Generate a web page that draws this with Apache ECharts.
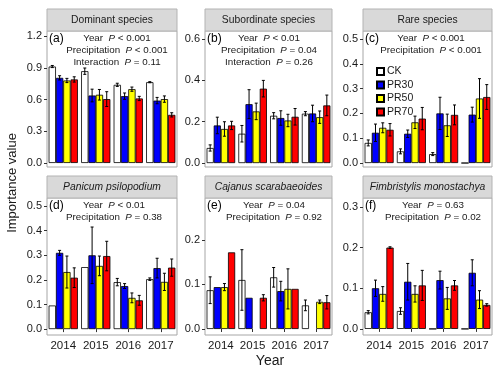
<!DOCTYPE html>
<html>
<head>
<meta charset="utf-8">
<script src="https://cdn.jsdelivr.net/npm/echarts@6/dist/echarts.min.js"></script>
<style>
  html, body { margin: 0; padding: 0; background: #fff; }
  #chart { width: 500px; height: 376px; }
</style>
</head>
<body>
<div id="chart"></div>
<script>
const years = ['2014', '2015', '2016', '2017']
const treatments = ['CK', 'PR30', 'PR50', 'PR70']
const colors = ['#ffffff', '#0000ff', '#ffff00', '#ff0000']

// rows: CK, PR30, PR50, PR70 ; columns: years
const dominantMean = [[0.912, 0.868, 0.739, 0.764], [0.805, 0.638, 0.632, 0.59], [0.78, 0.645, 0.698, 0.604], [0.79, 0.604, 0.61, 0.455]]
const dominantErr = [[0.01, 0.03, 0.015, 0.005], [0.02, 0.06, 0.03, 0.03], [0.02, 0.05, 0.02, 0.03], [0.025, 0.07, 0.02, 0.02]]
const subordinateMean = [[0.073, 0.142, 0.229, 0.239], [0.182, 0.285, 0.218, 0.24], [0.165, 0.25, 0.206, 0.222], [0.182, 0.36, 0.224, 0.279]]
const subordinateErr = [[0.015, 0.04, 0.015, 0.01], [0.04, 0.07, 0.035, 0.04], [0.035, 0.04, 0.03, 0.03], [0.02, 0.04, 0.04, 0.05]]
const rareMean = [[0.081, 0.047, 0.036, 0], [0.122, 0.118, 0.2, 0.195], [0.142, 0.164, 0.152, 0.26], [0.134, 0.179, 0.194, 0.266]]
const rareErr = [[0.012, 0.01, 0.006, 0], [0.035, 0.015, 0.065, 0.03], [0.02, 0.025, 0.045, 0.08], [0.025, 0.045, 0.04, 0.05]]
const panicumMean = [[0.096, 0.252, 0.191, 0.203], [0.31, 0.3, 0.175, 0.248], [0.232, 0.257, 0.127, 0.192], [0.209, 0.297, 0.117, 0.25]]
const panicumErr = [[0, 0, 0.015, 0.005], [0.01, 0.115, 0.01, 0.04], [0.065, 0.04, 0.02, 0.035], [0.04, 0.06, 0.02, 0.035]]
const cajanusMean = [[0.087, 0.11, 0.116, 0.053], [0.094, 0.07, 0.085, null], [0.094, null, 0.09, 0.061], [0.172, 0.07, 0.09, 0.06]]
const cajanusErr = [[0.03, 0.068, 0.022, 0.012], [0, 0, 0.022, 0], [0.008, 0, 0.045, 0.004], [0, 0.007, 0, 0.015]]
const fimbriMean = [[0.041, 0.044, 0, 0], [0.1, 0.116, 0.12, 0.138], [0.086, 0.086, 0.075, 0.072], [0.2, 0.107, 0.107, 0.059]]
const fimbriErr = [[0.004, 0.008, 0, 0], [0.02, 0.045, 0.022, 0.032], [0.018, 0.02, 0.027, 0.022], [0.002, 0.037, 0.012, 0.003]]

// y tick labels
const ticksA = [0, 0.3, 0.6, 0.9, 1.2]
const ticksB = [0, 0.2, 0.4, 0.6]
const ticksC = [0, 0.1, 0.2, 0.3, 0.4, 0.5]
const ticksD = [0, 0.1, 0.2, 0.3, 0.4, 0.5]
const ticksE = [0, 0.1, 0.2]
const ticksF = [0, 0.1, 0.2, 0.3]

const panels = [
  { title: 'Dominant species', italic: false, tag: '(a)', mean: dominantMean, err: dominantErr, ticks: ticksA, min: -0.038, max: 1.248, cx: 117,
    notes: [['Year', '<', '0.001'], ['Precipitation', '<', '0.001'], ['Interaction', '=', '0.11']] },
  { title: 'Subordinate species', italic: false, tag: '(b)', mean: subordinateMean, err: subordinateErr, ticks: ticksB, min: -0.019, max: 0.639, cx: 269,
    notes: [['Year', '<', '0.01'], ['Precipitation', '=', '0.04'], ['Interaction', '=', '0.26']] },
  { title: 'Rare species', italic: false, tag: '(c)', mean: rareMean, err: rareErr, ticks: ticksC, min: -0.016, max: 0.532, cx: 431,
    notes: [['Year', '<', '0.001'], ['Precipitation', '<', '0.001']] },
  { title: 'Panicum psilopodium', italic: true, tag: '(d)', mean: panicumMean, err: panicumErr, ticks: ticksD, min: -0.024, max: 0.533, cx: 114,
    notes: [['Year', '<', '0.01'], ['Precipitation', '=', '0.38']] },
  { title: 'Cajanus scarabaeoides', italic: true, tag: '(e)', mean: cajanusMean, err: cajanusErr, ticks: ticksE, min: -0.0135, max: 0.294, cx: 274,
    notes: [['Year', '=', '0.04'], ['Precipitation', '=', '0.92']] },
  { title: 'Fimbristylis monostachya', italic: true, tag: '(f)', mean: fimbriMean, err: fimbriErr, ticks: ticksF, min: -0.015, max: 0.322, cx: 433,
    notes: [['Year', '=', '0.63'], ['Precipitation', '=', '0.02']] }
]

const lefts = [47, 205, 363]
const widths = [130, 127, 129]
const rowTop = [31, 198]
const rowHeight = [136, 137]
const stripH = 22

const txt = '#1a1a1a'
const font = 'Liberation Sans, Arial, sans-serif'

function errorBars(idx, mean, err) {
  const data = []
  mean.forEach((row, s) => row.forEach((v, c) => {
    if (v != null && err[s][c] > 0) data.push([c, s, v - err[s][c], v + err[s][c]])
  }))
  return {
    type: 'custom',
    xAxisIndex: idx,
    yAxisIndex: idx,
    z: 5,
    silent: true,
    data: data,
    encode: { x: 0, y: [2, 3] },
    renderItem(params, api) {
      const band = api.size([1, 0])[0]
      const bw = band * 0.9 / 4
      const x0 = api.coord([api.value(0), 0])[0] - band * 0.45 + (api.value(1) + 0.5) * bw
      const lo = api.coord([api.value(0), api.value(2)])[1]
      const hi = api.coord([api.value(0), api.value(3)])[1]
      const cw = 1.5
      const st = { stroke: '#000', lineWidth: 1 }
      return {
        type: 'group',
        children: [
          { type: 'line', shape: { x1: x0, y1: lo, x2: x0, y2: hi }, style: st },
          { type: 'line', shape: { x1: x0 - cw, y1: lo, x2: x0 + cw, y2: lo }, style: st },
          { type: 'line', shape: { x1: x0 - cw, y1: hi, x2: x0 + cw, y2: hi }, style: st }
        ]
      }
    }
  }
}

const grid = []
const xAxis = []
const yAxis = []
const series = []
const graphic = []

panels.forEach((p, i) => {
  const col = i % 3
  const row = Math.floor(i / 3)
  const left = lefts[col]
  const top = rowTop[row]
  const bottomRow = row === 1
  grid.push({
    left: left, top: top, width: widths[col], height: rowHeight[row],
    show: true, borderColor: '#a6a6a6', borderWidth: 1, backgroundColor: '#fff'
  })
  xAxis.push({
    gridIndex: i, type: 'category', data: years,
    axisLine: { show: false },
    axisTick: { show: bottomRow, alignWithLabel: true, length: 3, lineStyle: { color: '#333' } },
    axisLabel: { show: bottomRow, interval: 0, fontSize: 11.5, color: txt, margin: 5, fontFamily: font }
  })
  yAxis.push({
    gridIndex: i, type: 'value', min: p.min, max: p.max,
    axisLine: { show: false },
    splitLine: { show: false },
    axisTick: { show: true, length: 3, customValues: p.ticks, lineStyle: { color: '#333' } },
    axisLabel: { customValues: p.ticks, formatter: v => v.toFixed(1), fontSize: 11, color: txt, margin: 5, fontFamily: font }
  })
  treatments.forEach((t, s) => {
    series.push({
      type: 'bar', name: t, xAxisIndex: i, yAxisIndex: i,
      data: p.mean[s], barGap: '0%', barCategoryGap: '10%',
      itemStyle: { color: colors[s], borderColor: '#000', borderWidth: 0.8 },
      emphasis: { disabled: true }
    })
  })
  series.push(errorBars(i, p.mean, p.err))

  // facet strip
  graphic.push({
    type: 'rect', z: 10,
    shape: { x: left, y: top - stripH, width: widths[col], height: stripH },
    style: { fill: '#d9d9d9', stroke: '#b3b3b3', lineWidth: 1 }
  })
  graphic.push({
    type: 'text', z: 11, x: left + widths[col] / 2, y: top - stripH / 2,
    style: {
      text: p.title, fill: txt, fontSize: 10.3, fontFamily: font,
      fontStyle: p.italic ? 'italic' : 'normal', align: 'center', verticalAlign: 'middle'
    }
  })
  // panel tag
  graphic.push({
    type: 'text', z: 11, x: left + 2, y: top + 8,
    style: { text: p.tag, fill: '#000', fontSize: 12, fontFamily: font, align: 'left', verticalAlign: 'middle' }
  })
  // statistics
  p.notes.forEach((n, k) => {
    graphic.push({
      type: 'text', z: 11, x: p.cx, y: top + 7 + k * 12,
      style: {
        text: '{n|' + n[0] + '  }{p|P}{n| ' + n[1] + ' ' + n[2] + '}',
        align: 'center', verticalAlign: 'middle',
        rich: {
          n: { fontSize: 9.8, fill: txt, fontFamily: font },
          p: { fontSize: 9.8, fill: txt, fontFamily: font, fontStyle: 'italic' }
        }
      }
    })
  })
})

graphic.push({
  type: 'text', x: 12, y: 183, rotation: Math.PI / 2,
  style: { text: 'Importance value', fill: txt, fontSize: 13, fontFamily: font, align: 'center', verticalAlign: 'middle' }
})
graphic.push({
  type: 'text', x: 270, y: 361,
  style: { text: 'Year', fill: txt, fontSize: 14, fontFamily: font, align: 'center', verticalAlign: 'middle' }
})

const chart = echarts.init(document.getElementById('chart'))
chart.setOption({
  animation: false,
  backgroundColor: '#fff',
  legend: {
    data: treatments,
    orient: 'vertical',
    left: 376, top: 66,
    padding: 0,
    icon: 'rect',
    itemWidth: 7, itemHeight: 7, itemGap: 2.5,
    selectedMode: false,
    textStyle: { fontSize: 10.5, color: txt, fontFamily: font, padding: [0, 0, 0, -2] }
  },
  grid: grid,
  xAxis: xAxis,
  yAxis: yAxis,
  series: series,
  graphic: graphic
})
</script>
</body>
</html>
